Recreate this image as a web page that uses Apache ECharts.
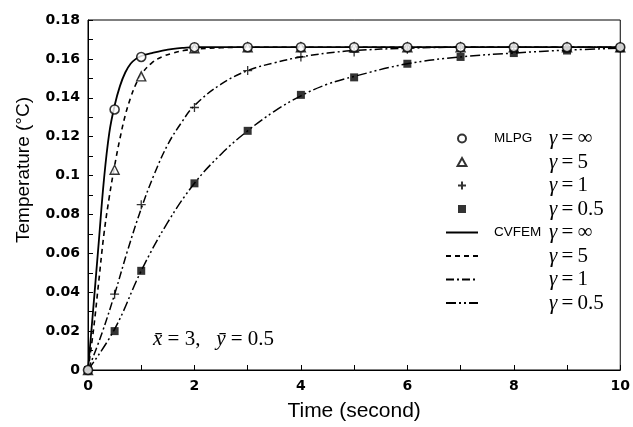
<!DOCTYPE html>
<html>
<head>
<meta charset="utf-8">
<script src="https://cdn.jsdelivr.net/npm/echarts@6/dist/echarts.min.js"></script>
<style>
html,body{margin:0;padding:0;background:#fff;}
#chart{width:633px;height:427px;}
</style>
</head>
<body>
<div id="chart"></div>
<script>
// ---- data ----
const tMarkers = [0, 0.5, 1, 2, 3, 4, 5, 6, 7, 8, 9, 10];
const mlpgInf = [0, 0.134, 0.161, 0.166, 0.166, 0.166, 0.166, 0.166, 0.166, 0.166, 0.166, 0.166];
const mlpg5   = [0, 0.103, 0.151, 0.1655, 0.166, 0.166, 0.166, 0.166, 0.166, 0.166, 0.166, 0.166];
const mlpg1   = [0, 0.039, 0.085, 0.135, 0.154, 0.161, 0.1635, 0.165, 0.1655, 0.166, 0.166, 0.166];
const mlpg05  = [0, 0.020, 0.051, 0.096, 0.123, 0.1415, 0.1505, 0.1575, 0.161, 0.163, 0.1643, 0.1655];

const tInf  = [0, 0.1, 0.2, 0.3, 0.4, 0.5, 0.6, 0.7, 0.8, 0.9, 1.0, 1.2, 1.4, 1.6, 1.8, 2, 3, 4, 5, 6, 7, 8, 9, 10];
const cvInf = [0, 0.032, 0.065, 0.098, 0.122, 0.136, 0.146, 0.153, 0.1575, 0.16, 0.1615, 0.163, 0.1643, 0.1652, 0.1657, 0.166, 0.166, 0.166, 0.166, 0.166, 0.166, 0.166, 0.166, 0.166];

const t5  = [0, 0.1, 0.2, 0.3, 0.4, 0.5, 0.6, 0.7, 0.8, 0.9, 1.0, 1.2, 1.4, 1.6, 1.8, 2, 2.5, 3, 4, 5, 6, 7, 8, 9, 10];
const cv5 = [0, 0.02, 0.045, 0.07, 0.089, 0.105, 0.119, 0.131, 0.14, 0.147, 0.152, 0.158, 0.1612, 0.163, 0.1643, 0.165, 0.1657, 0.166, 0.166, 0.166, 0.166, 0.166, 0.166, 0.166, 0.166];

const t1  = [0, 0.25, 0.5, 0.75, 1, 1.25, 1.5, 1.75, 2, 2.5, 3, 3.5, 4, 4.5, 5, 6, 7, 8, 9, 10];
const cv1 = [0, 0.018, 0.039, 0.062, 0.083, 0.101, 0.116, 0.127, 0.136, 0.147, 0.154, 0.158, 0.161, 0.163, 0.1643, 0.1655, 0.166, 0.166, 0.166, 0.166];

const t05  = [0, 0.5, 1, 1.5, 2, 2.5, 3, 3.5, 4, 4.5, 5, 6, 7, 8, 9, 10];
const cv05 = [0, 0.021, 0.051, 0.076, 0.096, 0.111, 0.123, 0.133, 0.141, 0.147, 0.151, 0.1575, 0.161, 0.163, 0.1645, 0.1655];

const xTicks = [0, 2, 4, 6, 8, 10];
const yTicks = [0, 0.02, 0.04, 0.06, 0.08, 0.1, 0.12, 0.14, 0.16, 0.18];

const legendInfo = {
  'MLPG γ=∞':  ['MLPG', 'γ', '\u2009=\u2009∞'],
  'MLPG γ=5':  [' ', 'γ', '\u2009=\u20095'],
  'MLPG γ=1':  [' ', 'γ', '\u2009=\u20091'],
  'MLPG γ=0.5':[' ', 'γ', '\u2009=\u20090.5'],
  'CVFEM γ=∞': ['CVFEM', 'γ', '\u2009=\u2009∞'],
  'CVFEM γ=5': [' ', 'γ', '\u2009=\u20095'],
  'CVFEM γ=1': [' ', 'γ', '\u2009=\u20091'],
  'CVFEM γ=0.5':[' ', 'γ', '\u2009=\u20090.5']
};

const symCircle = 'circle';
const symTriangle = 'path://M5,0L10,9L0,9Z';
const symPlus = 'path://M5,0L5,10M0,5L10,5';
const symSquare = 'path://M0,0L10,0L10,10L0,10Z';

function pairs(xs, ys) { return xs.map((x, i) => [x, ys[i]]); }

const chart = echarts.init(document.getElementById('chart'), null, {renderer: 'canvas'});

const lineBase = {type: 'line', smooth: 0.4, symbol: 'none', z: 2,
  itemStyle: {color: 'transparent', borderColor: 'transparent', borderWidth: 0, opacity: 0}};

const legendIcons = {
  'MLPG γ=∞': symCircle, 'MLPG γ=5': symTriangle, 'MLPG γ=1': symPlus, 'MLPG γ=0.5': symSquare
};

const option = {
  animation: false,
  backgroundColor: '#fff',
  grid: {left: 88, right: 9, top: 20, bottom: 52, show: true, borderColor: '#000', borderWidth: 1, backgroundColor: 'transparent'},
  xAxis: {
    type: 'value', min: 0, max: 10, interval: 2,
    name: 'Time (second)', nameLocation: 'middle', nameGap: 31,
    nameTextStyle: {fontFamily: 'Liberation Sans', fontSize: 21, color: '#000'},
    axisLine: {lineStyle: {color: '#000', width: 1}},
    axisTick: {inside: true, length: 5, lineStyle: {color: '#000'}},
    minorTick: {show: true, splitNumber: 2, length: 5, lineStyle: {color: '#000'}},
    splitLine: {show: false},
    axisLabel: {fontFamily: 'DejaVu Sans', fontWeight: 'bold', fontSize: 14, color: '#000', margin: 9,
      formatter: v => xTicks.includes(v) ? String(v) : ''}
  },
  yAxis: {
    type: 'value', min: 0, max: 0.18, interval: 0.02,
    name: 'Temperature (\u00B0C)', nameLocation: 'middle', nameGap: 55,
    nameTextStyle: {fontFamily: 'Liberation Sans', fontSize: 19, color: '#000', padding: [0, 0, 0, 50]},
    axisLine: {lineStyle: {color: '#000', width: 1}},
    axisTick: {inside: true, length: 5, lineStyle: {color: '#000'}},
    minorTick: {show: true, splitNumber: 2, length: 5, lineStyle: {color: '#000'}},
    splitLine: {show: false},
    axisLabel: {fontFamily: 'DejaVu Sans', fontWeight: 'bold', fontSize: 14, color: '#000', margin: 8,
      formatter: v => {
        const r = Math.round(v * 100) / 100;
        return yTicks.includes(r) ? String(r) : '';
      }}
  },
  legend: {
    orient: 'vertical', left: 445, top: 128, padding: 0,
    itemWidth: 32, itemHeight: 8, itemGap: 2.5,
    symbolKeepAspect: true,
    data: Object.keys(legendInfo).map(n => legendIcons[n] ? {name: n, icon: legendIcons[n]} : {name: n}),
    formatter: name => {
      const p = legendInfo[name];
      return '{a|' + p[0] + '}{g|' + p[1] + '}{n|' + p[2] + '}';
    },
    textStyle: {
      rich: {
        a: {fontFamily: 'Liberation Sans', fontSize: 13.5, color: '#000', width: 55, padding: [0, 0, 0, 11]},
        g: {fontFamily: 'Liberation Serif', fontStyle: 'italic', fontSize: 21, color: '#000'},
        n: {fontFamily: 'Liberation Serif', fontSize: 21, color: '#000'}
      }
    }
  },
  graphic: [{
    type: 'text', left: 153, top: 329, z: 10,
    style: {
      text: '{i|x\u0304} = 3,   {i|y\u0304} = 0.5',
      rich: {i: {fontFamily: 'Liberation Serif', fontStyle: 'italic', fontSize: 21, fill: '#000'}},
      fontFamily: 'Liberation Serif', fontSize: 21, fill: '#000'
    }
  }],
  series: [
    {name: 'MLPG γ=∞', type: 'scatter', data: pairs(tMarkers, mlpgInf), symbol: symCircle, symbolSize: 9, z: 6,
      itemStyle: {color: '#fff', borderColor: '#000', borderWidth: 1.6}},
    {name: 'MLPG γ=5', type: 'scatter', data: pairs(tMarkers, mlpg5), symbol: symTriangle, symbolSize: 9, z: 5,
      itemStyle: {color: '#fff', borderColor: '#000', borderWidth: 1.4}},
    {name: 'MLPG γ=1', type: 'scatter', data: pairs(tMarkers, mlpg1), symbol: symPlus, symbolSize: 9, z: 5,
      itemStyle: {color: 'transparent', borderColor: '#000', borderWidth: 1.3}},
    {name: 'MLPG γ=0.5', type: 'scatter', data: pairs(tMarkers, mlpg05), symbol: symSquare, symbolSize: 8, z: 5,
      itemStyle: {color: '#000', borderColor: '#000', borderWidth: 0}},
    Object.assign({}, lineBase, {name: 'CVFEM γ=∞', data: pairs(tInf, cvInf),
      lineStyle: {color: '#000', width: 1.8, type: 'solid'}}),
    Object.assign({}, lineBase, {name: 'CVFEM γ=5', data: pairs(t5, cv5),
      lineStyle: {color: '#000', width: 1.6, type: [5, 4]}}),
    Object.assign({}, lineBase, {name: 'CVFEM γ=1', data: pairs(t1, cv1),
      lineStyle: {color: '#000', width: 1.5, type: [8, 3, 2, 3]}}),
    Object.assign({}, lineBase, {name: 'CVFEM γ=0.5', data: pairs(t05, cv05),
      lineStyle: {color: '#000', width: 1.5, type: [10, 3, 2, 3, 2, 3]}})
  ]
};
chart.setOption(option);
</script>
</body>
</html>
